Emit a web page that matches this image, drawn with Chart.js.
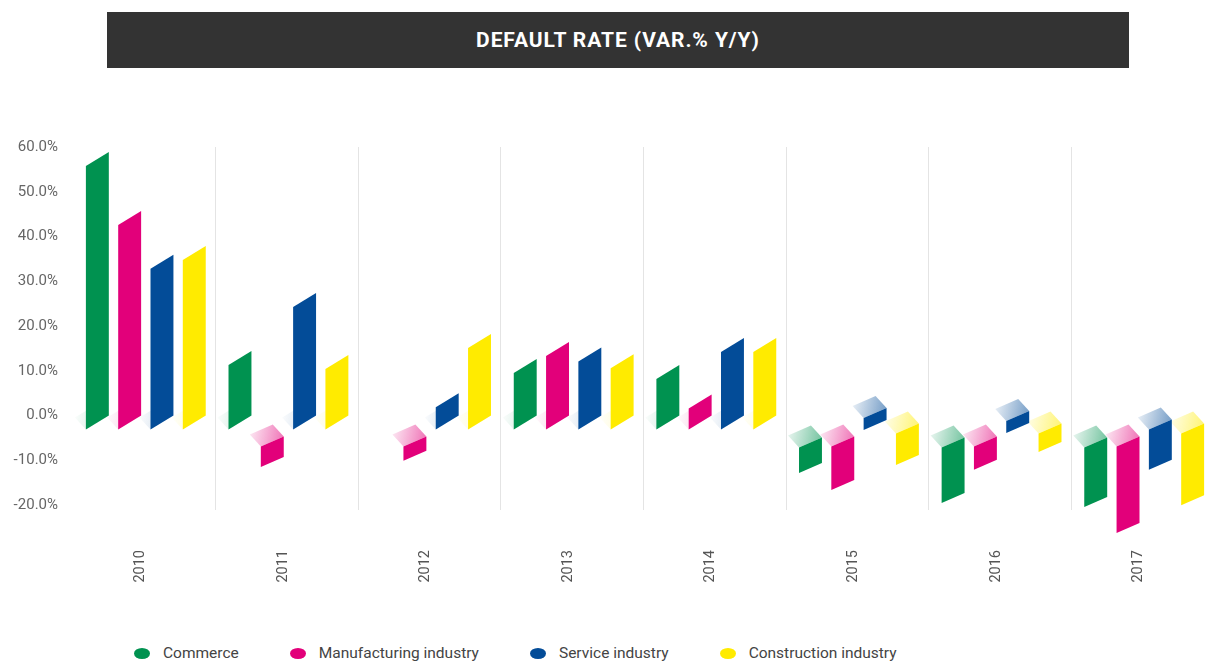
<!DOCTYPE html>
<html>
<head>
<meta charset="utf-8">
<script src="https://cdn.jsdelivr.net/npm/chart.js@4.4.1/dist/chart.umd.min.js"></script>
<style>
  html, body { margin: 0; padding: 0; background: #fff; overflow: hidden; width: 1205px; height: 662px; }
  #title {
    position: absolute; left: 107px; top: 12px; width: 1022px; height: 56px;
    background: #333; color: #fff; text-align: center;
    font: 700 21px Roboto, sans-serif; line-height: 57px; letter-spacing: 0.9px;
  }
  #wrap { position: absolute; left: 0; top: 0; width: 1214px; height: 605px; }
  #legend {
    position: absolute; left: 134px; top: 644px; display: flex; gap: 51px;
    font: 15.5px Roboto, sans-serif; color: #444; white-space: nowrap;
  }
  .item { display: flex; align-items: center; }
  .dot { width: 16px; height: 11px; border-radius: 50%; margin-right: 13px; }
</style>
</head>
<body>
<div id="title">DEFAULT RATE (VAR.% Y/Y)</div>
<div id="wrap"><canvas id="chart" width="1214" height="605"></canvas></div>
<div id="legend"></div>
<script>
const years = ["2010", "2011", "2012", "2013", "2014", "2015", "2016", "2017"];
const seriesNames = ["Commerce", "Manufacturing industry", "Service industry", "Construction industry"];

const commerce = [58.9, 14.4, null, 12.6, 11.3, -10.6, -17.3, -18.2];
const manufacturing = [45.7, -9.3, -7.9, 16.4, 4.7, -14.4, -9.9, -24.0];
const service = [35.9, 27.4, 5.0, 15.2, 17.3, -1.0, -1.7, -9.9];
const construction = [37.9, 13.5, 18.2, 13.7, 17.3, -8.8, -5.9, -17.8];

const yTicks = [-20, -10, 0, 10, 20, 30, 40, 50, 60];

const seriesColors = ["#009250", "#e2007a", "#034c98", "#ffeb00"];
// how far below zero the top of a negative column starts (px), per series
const capDrop = [22, 21, 4, 8];

function rgba(hex, a) {
  const n = parseInt(hex.slice(1), 16);
  return `rgba(${(n >> 16) & 255}, ${(n >> 8) & 255}, ${n & 255}, ${a})`;
}

// Draws every bar as a slanted front face with a faded top face (pseudo 3D).
const isoBars = {
  id: "isoBars",
  beforeDatasetsDraw(chart) {
    const ctx = chart.ctx;
    const zero = chart.scales.y.getPixelForValue(0);
    const dx = -11, dy = -12;
    const faces = [];

    ctx.save();
    chart.data.datasets.forEach((ds, di) => {
      const meta = chart.getDatasetMeta(di);
      meta.data.forEach((bar, i) => {
        const v = ds.data[i];
        if (v === null || v === undefined) return;
        const { x, y, width } = bar.getProps(["x", "y", "width"], true);
        const x0 = x - width / 2 + 1.5;
        const x1 = x + width / 2 + 1.5;
        let top, bottom, k, capY, alphas;

        if (v >= 0) {
          k = 14;
          top = y;
          bottom = zero;
          capY = zero;
          alphas = [0.02, 0.22];
        } else {
          k = 10;
          bottom = y;
          top = Math.min(zero + capDrop[di], y - 12);
          capY = top;
          alphas = [0.1, 0.55];
        }

        // top face (or faint base face for positive columns)
        const grad = ctx.createLinearGradient(x0 + dx, capY + k + dy, x1, capY + k / 2);
        grad.addColorStop(0, rgba(ds.backgroundColor, alphas[0]));
        grad.addColorStop(1, rgba(ds.backgroundColor, alphas[1]));
        ctx.fillStyle = grad;
        ctx.beginPath();
        ctx.moveTo(x0, capY + k);
        ctx.lineTo(x1, capY);
        ctx.lineTo(x1 + dx, capY + dy);
        ctx.lineTo(x0 + dx, capY + k + dy);
        ctx.closePath();
        ctx.fill();

        faces.push({ x0, x1, top, bottom, k, color: ds.backgroundColor });
      });
    });

    faces.forEach((f) => {
      ctx.fillStyle = f.color;
      ctx.beginPath();
      ctx.moveTo(f.x0, f.top + f.k);
      ctx.lineTo(f.x1, f.top);
      ctx.lineTo(f.x1, f.bottom);
      ctx.lineTo(f.x0, f.bottom + f.k);
      ctx.closePath();
      ctx.fill();
    });
    ctx.restore();
    return false;
  }
};

const seriesData = [commerce, manufacturing, service, construction];

new Chart(document.getElementById("chart"), {
  type: "bar",
  data: {
    labels: years,
    datasets: seriesNames.map((name, i) => ({
      label: name,
      data: seriesData[i],
      backgroundColor: seriesColors[i],
      borderWidth: 0,
      barPercentage: 0.71,
      categoryPercentage: 0.906
    }))
  },
  options: {
    responsive: false,
    animation: false,
    events: [],
    layout: { padding: { top: 147, left: 0, right: 0, bottom: 0 } },
    plugins: {
      legend: { display: false },
      tooltip: { enabled: false }
    },
    scales: {
      x: {
        grid: {
          offset: true,
          color: (c) => (c.index === 0 ? "rgba(0,0,0,0)" : "#e4e4e4"),
          tickLength: 5
        },
        border: { display: false },
        ticks: {
          minRotation: 90,
          maxRotation: 90,
          padding: 40,
          labelOffset: -4,
          color: "#555",
          font: { family: "Roboto", size: 14.5 }
        },
        afterFit: (scale) => {
          scale.height = 100;
        }
      },
      y: {
        min: -20,
        max: 60,
        afterBuildTicks: (scale) => {
          scale.ticks = yTicks.map((v) => ({ value: v }));
        },
        ticks: {
          padding: 15,
          color: "#666",
          font: { family: "Roboto", size: 15 },
          callback: (value) => `${Number(value).toFixed(1)}%`
        },
        grid: { display: false, drawTicks: false },
        border: { display: false },
        afterFit: (scale) => {
          scale.width = 73;
        }
      }
    }
  },
  plugins: [isoBars]
});

const legend = document.getElementById("legend");
seriesNames.forEach((name, i) => {
  const item = document.createElement("div");
  item.className = "item";
  const dot = document.createElement("span");
  dot.className = "dot";
  dot.style.background = seriesColors[i];
  const label = document.createElement("span");
  label.textContent = name;
  item.appendChild(dot);
  item.appendChild(label);
  legend.appendChild(item);
});
</script>
</body>
</html>
